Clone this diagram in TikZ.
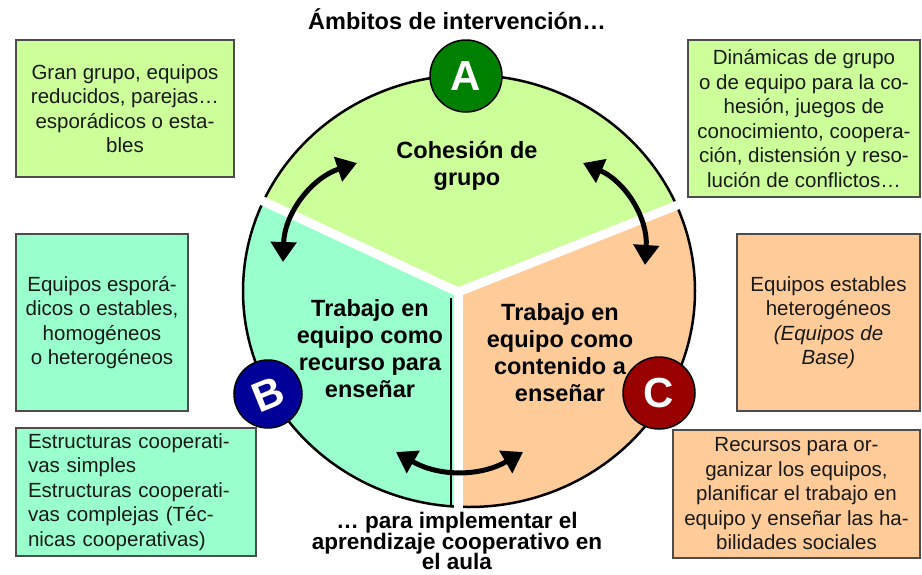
\documentclass[tikz,border=0pt]{standalone}
\usepackage{fontspec}
\setmainfont{Liberation Sans}
\definecolor{FondoGrupo}{HTML}{CCFF99}
\definecolor{FondoRecurso}{HTML}{99FFCC}
\definecolor{FondoContenido}{HTML}{FFCC99}
\definecolor{CirculoA}{HTML}{008000}
\definecolor{CirculoB}{HTML}{000099}
\definecolor{CirculoC}{HTML}{990000}
\usetikzlibrary{arrows.meta, calc}
\newcommand{\lineasjuntas}{\lineskiplimit=-50pt\relax}
\tikzset{
    caja/.style={
        draw=black!70, line width=1.2pt, inner sep=0pt, align=center,
        text=black!90, font=\fontsize{20.5}{24.5}\selectfont
    },
    texto sector/.style={
        align=center, inner sep=0pt, font=\fontsize{23.5}{27}\selectfont\bfseries
    },
    letra/.style={
        circle, draw=black, line width=1.5pt, minimum size=72pt, inner sep=0pt,
        text=white, font=\fontsize{42}{42}\selectfont\bfseries
    },
    flecha doble/.style={
        line width=5pt,
        {Triangle[length=20pt,width=25pt]}-{Triangle[length=20pt,width=25pt]}
    },
    hueco/.style={white, line width=9pt, line cap=round}
}

\begin{document}
\begin{tikzpicture}[x=1pt, y=-1pt]

    \useasboundingbox (0,0) rectangle (922,574);

    \coordinate (O) at (458,292);
    \coordinate (M) at (469,291);

    % Sectores del círculo
    \begin{scope}
        \clip (M) ellipse [x radius=226, y radius=216];
        \fill[FondoGrupo] (O) -- ++(-155:400) -- (0,-300) -- (922,-300)
            -- ($(O)+(-21.6:400)$) -- cycle;
        \fill[FondoRecurso] (O) -- ++(-155:400) -- (0,800) -- (O |- 0,800) -- cycle;
        \fill[FondoContenido] (O) -- ++(-21.6:400) -- (922,800) -- (O |- 0,800) -- cycle;
    \end{scope}
    \draw[line width=2.5pt] (M) ellipse [x radius=226, y radius=216];
    \draw[hueco] (O) -- ++(-155:300);
    \draw[hueco] (O) -- ++(-21.6:300);
    \draw[hueco] (O) -- ++(90:300);
    \draw[line width=2.5pt] (451,298) -- (451,506);

    % Textos de los sectores
    \node[texto sector] (grupo) at (467,166) {Cohesión de\\grupo};
    \node[texto sector] (recurso) at (370,349) {Trabajo en\\equipo como\\recurso para\\enseñar};
    \node[texto sector] (contenido) at (560,353) {Trabajo en\\equipo como\\contenido a\\enseñar};

    % Flechas entre sectores
    \coordinate (ab1) at (357,163);
    \coordinate (ab2) at (283,262);
    \coordinate (ac1) at (583,163);
    \coordinate (ac2) at (645,265);
    \coordinate (bc1) at (396,452);
    \coordinate (bc2) at (523,452);
    \draw[flecha doble] (ab1) to[bend right=35] (ab2);
    \draw[flecha doble] (ac1) to[bend left=35] (ac2);
    \draw[flecha doble] (bc1) to[bend right=30] (bc2);

    % Letras
    \node[letra, fill=CirculoA] (letraA) at (466,76) {A};
    \node[letra, fill=CirculoB, minimum size=68pt, rotate=22] (letraB) at (268,394) {B};
    \node[letra, fill=CirculoC] (letraC) at (659,393) {C};

    % Cajas laterales
    \node[caja, fill=FondoGrupo, minimum width=218pt, minimum height=137pt]
        (espacios) at (125,108.5) {Gran grupo, equipos\\reducidos, parejas…\\esporádicos o esta-\\bles};
    \node[caja, fill=FondoRecurso, minimum width=172pt, minimum height=177pt]
        (equipos) at (102,322.5) {Equipos esporá-\\dicos o estables,\\homogéneos\\o heterogéneos};
    \node[caja, fill=FondoRecurso, minimum width=240pt, minimum height=128pt,
        text width=216pt, align=left]
        (estructuras) at (136,492) {Estructuras cooperati-\\vas simples\\Estructuras cooperati-\\vas complejas (Téc-\\nicas cooperativas)};
    \node[caja, fill=FondoGrupo, minimum width=232pt, minimum height=157pt]
        (dinamicas) at (804,118.5) {Dinámicas de grupo\\o de equipo para la co-\\hesión, juegos de\\conocimiento, coopera-\\ción, distensión y reso-\\lución de conflictos…};
    \node[caja, fill=FondoContenido, minimum width=183pt, minimum height=177pt]
        (base) at (828.5,322.5) {Equipos estables\\heterogéneos\\\textit{(Equipos de}\\\textit{Base)}};
    \node[caja, fill=FondoContenido, minimum width=247pt, minimum height=128pt]
        (recursos) at (796.5,494) {Recursos para or-\\ganizar los equipos,\\planificar el trabajo en\\equipo y enseñar las ha-\\bilidades sociales};

    % Titulo y pie
    \node[texto sector] (titulo) at (457,19) {Ámbitos de intervención…};
    \node[texto sector, font=\fontsize{22.5}{20.5}\selectfont\bfseries\lineasjuntas]
        (pie) at (457,541) {… para implementar el\\aprendizaje cooperativo en\\el aula};

\end{tikzpicture}
\end{document}
